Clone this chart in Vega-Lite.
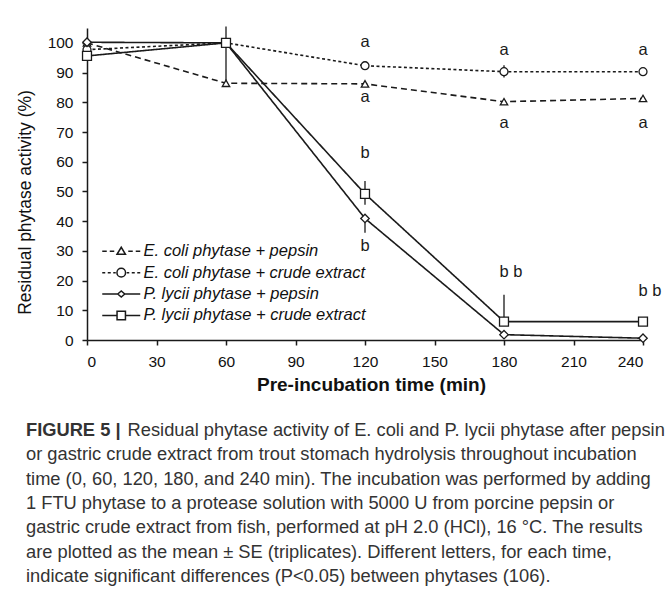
{
  "$schema": "https://vega.github.io/schema/vega-lite/v6.json",
  "width": 556,
  "height": 312,
  "autosize": "none",
  "padding": {"left": 87, "top": 28, "right": 24, "bottom": 268},
  "background": "white",
  "config": {
    "view": {"stroke": null},
    "font": "Liberation Sans",
    "axis": {
      "grid": false,
      "domainColor": "#1a1a1a",
      "domainWidth": 1.5,
      "tickColor": "#1a1a1a",
      "tickWidth": 1.5,
      "tickSize": 5,
      "labelFont": "Liberation Sans",
      "labelFontSize": 15.5,
      "labelColor": "#111111",
      "labelOverlap": false,
      "titleFont": "Liberation Sans",
      "titleColor": "#111111"
    }
  },
  "datasets": {
    "series": [
      {"series": "E. coli phytase + pepsin", "t": 0, "v": 100},
      {"series": "E. coli phytase + pepsin", "t": 60, "v": 86.4},
      {"series": "E. coli phytase + pepsin", "t": 120, "v": 86.2},
      {"series": "E. coli phytase + pepsin", "t": 180, "v": 80.2},
      {"series": "E. coli phytase + pepsin", "t": 240, "v": 81.3},
      {"series": "E. coli phytase + crude extract", "t": 0, "v": 97.7},
      {"series": "E. coli phytase + crude extract", "t": 60, "v": 100},
      {"series": "E. coli phytase + crude extract", "t": 120, "v": 92.3},
      {"series": "E. coli phytase + crude extract", "t": 180, "v": 90.3},
      {"series": "E. coli phytase + crude extract", "t": 240, "v": 90.3},
      {"series": "P. lycii phytase + pepsin", "t": 0, "v": 100.2},
      {"series": "P. lycii phytase + pepsin", "t": 60, "v": 100},
      {"series": "P. lycii phytase + pepsin", "t": 120, "v": 40.9},
      {"series": "P. lycii phytase + pepsin", "t": 180, "v": 1.8},
      {"series": "P. lycii phytase + pepsin", "t": 240, "v": 0.6},
      {"series": "P. lycii phytase + crude extract", "t": 0, "v": 95.6},
      {"series": "P. lycii phytase + crude extract", "t": 60, "v": 100},
      {"series": "P. lycii phytase + crude extract", "t": 120, "v": 49.2},
      {"series": "P. lycii phytase + crude extract", "t": 180, "v": 6.2},
      {"series": "P. lycii phytase + crude extract", "t": 240, "v": 6.2}
    ],
    "err": [
      {"t": 60, "v": 86.4, "v2": 105.5},
      {"t": 120, "v": 45.5, "v2": 53.5},
      {"t": 120, "v": 36.1, "v2": 41},
      {"t": 180, "v": 6.2, "v2": 15.2},
      {"t": 180, "v": 88.3, "v2": 92.5}
    ],
    "letters": [
      {"t": 120, "v": 100.3, "label": "a"},
      {"t": 120, "v": 81.8, "label": "a"},
      {"t": 120, "v": 63.0, "label": "b"},
      {"t": 120, "v": 31.6, "label": "b"},
      {"t": 180, "v": 97.7, "label": "a"},
      {"t": 180, "v": 72.9, "label": "a"},
      {"t": 180, "v": 22.9, "label": "b b"},
      {"t": 240, "v": 97.7, "label": "a"},
      {"t": 240, "v": 72.9, "label": "a"},
      {"t": 240, "v": 16.4, "label": "b b"}
    ]
  },
  "title": {
    "text": "FIGURE 5 |",
    "subtitle": [
      "\u200b\u00a0\u00a0\u00a0\u00a0\u00a0\u00a0\u00a0\u00a0\u00a0\u00a0\u00a0\u00a0\u00a0\u00a0\u00a0\u00a0\u00a0\u00a0\u00a0\u00a0Residual phytase activity of E. coli and P. lycii phytase after pepsin",
      "or gastric crude extract from trout stomach hydrolysis throughout incubation",
      "time (0, 60, 120, 180, and 240 min). The incubation was performed by adding",
      "1 FTU phytase to a protease solution with 5000 U from porcine pepsin or",
      "gastric crude extract from fish, performed at pH 2.0 (HCl), 16 °C. The results",
      "are plotted as the mean ± SE (triplicates). Different letters, for each time,",
      "indicate significant differences (P<0.05) between phytases (106)."
    ],
    "orient": "bottom",
    "anchor": "start",
    "frame": "bounds",
    "font": "Liberation Sans",
    "fontSize": 18.3,
    "fontWeight": "bold",
    "color": "#333333",
    "subtitleFont": "Liberation Sans",
    "subtitleFontSize": 18.3,
    "subtitleFontWeight": "normal",
    "subtitleColor": "#333333",
    "subtitleLineHeight": 24.3,
    "subtitlePadding": -18.3,
    "offset": 28,
    "dx": 10,
    "limit": 1000
  },
  "encoding": {
    "x": {
      "field": "t", "type": "quantitative",
      "scale": {"domain": [0, 240], "nice": false},
      "title": "Pre-incubation time (min)",
      "axis": {
        "values": [0, 30, 60, 90, 120, 150, 180, 210, 240],
        "labelPadding": 9,
        "labelOverlap": false,
        "titleFontSize": 19,
        "titleFontWeight": "bold",
        "titleX": 284,
        "titleY": 44,
        "titleBaseline": "middle"
      }
    },
    "y": {
      "field": "v", "type": "quantitative",
      "scale": {"domain": [0, 105], "nice": false},
      "title": "Residual phytase activity (%)",
      "axis": {
        "values": [0, 10, 20, 30, 40, 50, 60, 70, 80, 90, 100],
        "tickCount": 11,
        "labelPadding": 9,
        "labelOverlap": false,
        "labelBound": false,
        "titleFontSize": 17.5,
        "titleFontWeight": "normal",
        "titleX": -62,
        "titleY": 174,
        "titleAlign": "center",
        "titleBaseline": "middle",
        "titleAngle": -90
      }
    }
  },
  "layer": [
    {
      "data": {"name": "err"},
      "mark": {"type": "rule", "strokeWidth": 1.3, "color": "#1a1a1a"},
      "encoding": {
        "y2": {"field": "v2"}
      }
    },
    {
      "data": {"name": "series"},
      "mark": {"type": "line", "strokeWidth": 1.6, "color": "#1a1a1a"},
      "encoding": {
        "strokeDash": {
          "field": "series", "type": "nominal",
          "scale": {
            "domain": ["E. coli phytase + pepsin", "E. coli phytase + crude extract", "P. lycii phytase + pepsin", "P. lycii phytase + crude extract"],
            "range": [[6, 4], [3, 2.5], [1, 0], [1, 0]]
          },
          "legend": null
        }
      }
    },
    {
      "data": {"name": "series"},
      "mark": {"type": "point", "filled": true, "fill": "white", "stroke": "#1a1a1a", "strokeWidth": 1.3, "opacity": 1},
      "encoding": {
        "shape": {
          "field": "series", "type": "nominal",
          "scale": {
            "domain": ["E. coli phytase + pepsin", "E. coli phytase + crude extract", "P. lycii phytase + pepsin", "P. lycii phytase + crude extract"],
            "range": ["triangle-up", "circle", "diamond", "square"]
          },
          "legend": null
        },
        "size": {
          "field": "series", "type": "nominal",
          "scale": {
            "domain": ["E. coli phytase + pepsin", "E. coli phytase + crude extract", "P. lycii phytase + pepsin", "P. lycii phytase + crude extract"],
            "range": [55, 80, 45, 70]
          },
          "legend": null
        }
      }
    },
    {
      "data": {"name": "letters"},
      "transform": [{"filter": "datum.label !== 'b b'"}],
      "mark": {"type": "text", "font": "Liberation Sans", "fontSize": 16.5, "color": "#1a1a1a", "align": "center", "baseline": "middle"},
      "encoding": {
        "text": {"field": "label"}
      }
    },
    {
      "data": {"name": "letters"},
      "transform": [{"filter": "datum.label === 'b b'"}],
      "mark": {"type": "text", "font": "Liberation Sans", "fontSize": 16.5, "color": "#1a1a1a", "align": "left", "baseline": "middle", "dx": -4.5},
      "encoding": {
        "text": {"field": "label"}
      }
    },
    {
      "data": {"name": "series"},
      "transform": [{"filter": "false"}],
      "mark": {"type": "point", "filled": false, "color": "#1a1a1a", "strokeWidth": 1.5, "opacity": 1, "size": 196},
      "encoding": {
        "shape": {
          "field": "series", "type": "nominal",
          "scale": {
            "domain": ["E. coli phytase + pepsin", "E. coli phytase + crude extract", "P. lycii phytase + pepsin", "P. lycii phytase + crude extract"],
            "range": [
              "M-2.714,0H-2.071M-1.643,0H-1M-0.6,0.43L0,-0.57L0.6,0.43ZM1,0H1.643M2.071,0H2.714",
              "M-2.714,0H-2.286M-1.929,0H-1.5M-1.143,0H-0.786M-0.614,0A0.614,0.614 0 1,1 0.614,0A0.614,0.614 0 1,1 -0.614,0ZM0.786,0H1.143M1.5,0H1.929M2.286,0H2.714",
              "M-2.714,0H-0.5M0.5,0H2.714M-0.5,0L0,-0.43L0.5,0L0,0.43Z",
              "M-2.714,0H-0.6M0.6,0H2.714M-0.6,-0.6H0.6V0.6H-0.6Z"
            ]
          },
          "legend": {
            "orient": "none",
            "legendX": 26,
            "legendY": 215,
            "title": null,
            "padding": 0,
            "symbolSize": 196,
            "symbolStrokeWidth": 1.5,
            "symbolStrokeColor": "#1a1a1a",
            "symbolOpacity": 1,
            "labelFont": "Liberation Sans",
            "labelFontStyle": "italic",
            "labelFontSize": 16.5,
            "labelColor": "#111111",
            "labelOffset": 14,
            "labelLimit": 400,
            "rowPadding": 4.4
          }
        }
      }
    }
  ],
  "resolve": {"scale": {"shape": "independent", "size": "independent"}, "legend": {"shape": "independent"}}
}
